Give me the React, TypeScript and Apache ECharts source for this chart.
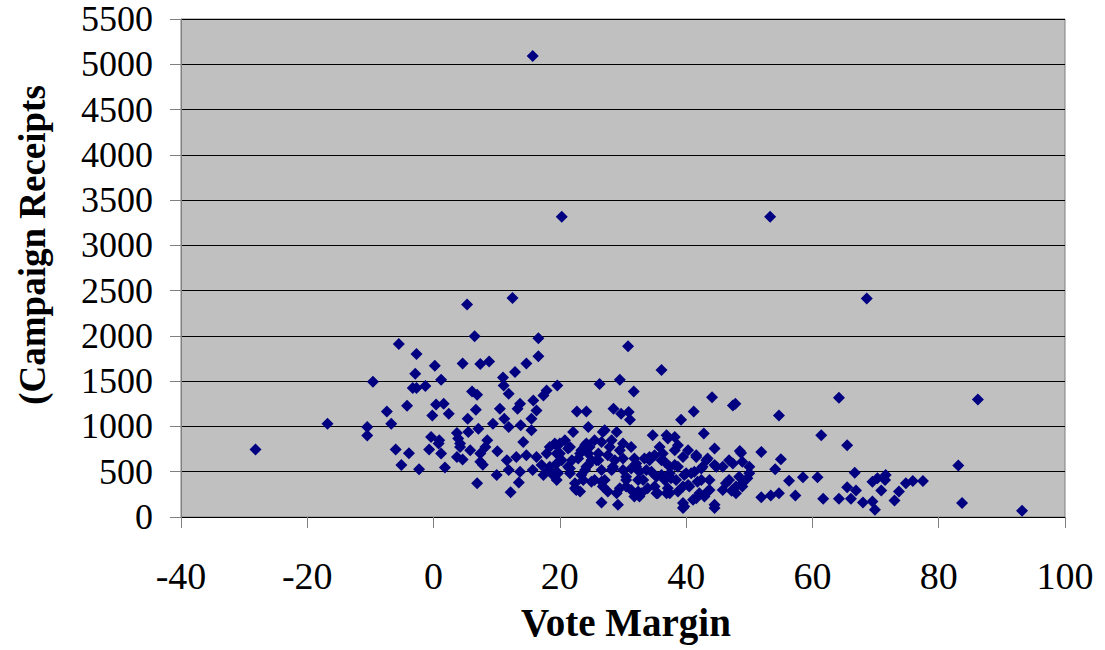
import React, { useEffect, useRef } from "react";
import * as echarts from "echarts";

const xTicks = { min: -40, max: 100, interval: 20 };
const yTicks = { min: 0, max: 5500, interval: 500 };
const xTitle = "Vote Margin";
const yTitle = "(Campaign Receipts";

// [vote margin, campaign receipts]
const sparseLeft: number[][] = [
  [-28.2, 746], [-16.8, 1031], [-10.5, 993], [-10.5, 899], [-9.6, 1495], [-7.4, 1166],
  [-6.7, 1031], [-6.0, 746], [-5.5, 1911], [-5.1, 573], [-3.9, 705], [-4.2, 1228],
  [-2.9, 1582], [-2.7, 1801], [-3.3, 1425], [-2.7, 1425], [-1.3, 1447], [-2.3, 526],
  [-0.7, 746], [-0.4, 884], [-0.2, 1122], [0.2, 1670], [1.2, 1516], [0.4, 1242],
  [1.6, 1250], [2.4, 1140], [0.8, 811], [1.2, 702], [1.8, 548], [3.7, 928], [4.2, 811],
  [3.7, 664], [4.6, 636], [5.3, 2346], [4.6, 1695], [6.5, 1996], [5.4, 1086], [6.1, 1385],
  [6.7, 1184], [5.8, 738], [6.9, 373],
];

const outliers: number[][] = [
  [15.7, 5091], [20.3, 3315], [53.3, 3315], [68.6, 2412], [12.5, 2419], [86.2, 1297],
];

const band0to20: number[][] = [
  [16.6, 1974], [7.4, 1689], [8.8, 1717], [14.7, 1695], [16.6, 1776], [12.9, 1601],
  [11.0, 1542], [11.1, 1451], [11.9, 1360], [6.9, 1349], [19.6, 1451], [17.9, 1396],
  [17.4, 1341], [15.8, 1286], [13.7, 1250], [13.3, 1195], [10.5, 1195], [11.2, 1086],
  [9.4, 1031], [11.9, 993], [13.8, 1012], [15.5, 957], [16.3, 1177], [5.5, 939],
  [7.1, 976], [0.9, 848], [3.9, 866], [4.2, 774], [8.5, 848], [8.2, 774], [14.2, 829],
  [7.4, 702], [10.1, 727], [11.6, 628], [13.1, 664], [14.7, 683], [16.3, 664], [17.9, 702],
  [19.5, 793], [18.4, 774], [7.8, 577], [10.0, 464], [11.9, 519], [13.7, 500], [15.7, 519],
  [17.4, 464], [18.9, 464], [12.2, 274], [13.5, 380], [19.5, 592], [17.1, 573], [18.2, 519],
  [19.5, 409], [7.4, 610], [15.5, 1086], [19.5, 702], [18.4, 555],
];

const band20to55: number[][] = [
  [30.8, 1886], [36.1, 1623], [26.3, 1469], [29.5, 1516], [31.7, 1385], [22.7, 1166],
  [24.2, 1166], [28.5, 1195], [29.7, 1140], [30.9, 1160], [31.1, 1075], [39.2, 1075],
  [41.2, 1166], [44.1, 1322], [47.4, 1231], [47.8, 1250], [42.8, 921], [51.9, 719], [34.7, 902],
  [22.1, 939], [24.5, 993], [26.8, 939], [29.0, 939], [36.9, 902], [38.2, 884],
  [26.6, 160], [29.2, 135], [39.5, 99], [44.5, 99], [51.9, 219], [22.6, 299], [32.6, 226],
  [37.4, 263], [41.6, 208], [47.9, 263], [48.9, 373], [50.0, 482], [48.7, 708], [44.5, 757],
  [41.6, 683],
  [20.0, 702], [19.2, 811], [20.8, 848], [21.3, 555], [19.7, 482], [22.4, 373], [23.2, 281],
  [23.4, 738], [24.2, 811], [25.0, 628], [25.5, 848], [26.1, 702], [26.6, 519], [27.1, 409],
  [27.6, 281], [27.9, 774], [28.7, 628], [29.5, 738], [30.0, 519], [30.5, 336], [31.3, 774],
  [32.1, 592], [32.9, 263], [33.7, 519], [34.2, 664], [35.0, 336], [35.8, 774], [36.1, 628],
  [36.9, 263], [37.4, 482], [38.2, 738], [38.7, 555], [39.5, 336], [39.7, 117], [40.3, 738],
  [40.8, 482], [41.6, 664], [42.1, 263], [42.4, 409], [21.9, 628], [20.3, 628], [24.0, 519],
  [25.5, 409], [32.4, 409], [36.6, 409], [31.3, 299], [28.2, 519], [24.5, 702],
  [27.1, 957], [20.0, 811], [21.3, 757], [19.5, 500], [21.6, 537], [22.9, 647], [24.0, 793],
  [26.6, 829], [28.2, 848], [30.0, 811], [31.8, 647], [30.0, 647], [27.6, 683], [26.1, 628],
  [24.5, 573], [23.4, 464], [22.4, 318], [25.0, 390], [26.6, 390], [29.5, 318], [30.5, 445],
  [31.8, 226], [28.4, 537], [31.3, 537],
  [37.1, 866], [38.7, 793], [43.4, 647], [33.4, 647], [35.0, 683], [36.6, 610], [38.2, 573],
  [32.6, 500], [34.5, 500], [36.1, 464], [37.6, 428], [39.7, 464], [41.3, 500], [42.4, 537],
  [44.5, 573], [32.4, 281], [33.9, 318], [35.5, 263], [37.1, 318], [38.7, 281], [40.3, 354],
  [41.8, 390], [39.5, 154], [41.1, 190], [43.4, 281], [44.5, 135],
  [21.6, 774], [23.2, 702], [24.7, 774], [24.2, 555], [25.8, 628], [28.4, 555], [30.5, 409],
  [32.1, 555], [33.2, 409], [34.2, 628], [35.3, 445], [36.3, 702], [37.4, 555], [38.4, 409],
  [39.5, 664], [40.0, 482], [40.5, 336], [42.6, 555], [43.7, 409], [45.8, 555], [46.8, 409],
  [47.9, 336], [46.8, 628], [23.7, 409], [26.8, 336], [29.0, 263], [35.3, 263], [21.6, 482],
  [54.7, 1122], [55.0, 639], [54.1, 526], [53.4, 237], [54.7, 263], [48.5, 730],
  [43.2, 628], [44.8, 555], [46.3, 373], [47.2, 290], [48.9, 336], [49.7, 428], [50.0, 555],
  [48.9, 610], [47.4, 592], [43.7, 299], [42.9, 226], [48.4, 445], [45.8, 299],
];

const bandRight: number[][] = [
  [64.2, 1316], [61.4, 902], [65.5, 793], [56.3, 401], [58.5, 438], [60.8, 438],
  [57.3, 237], [61.7, 201], [64.2, 201], [65.5, 329], [66.7, 489], [83.1, 570], [83.7, 154],
  [93.2, 69], [66.1, 201], [66.9, 292], [68.0, 160], [69.5, 171], [69.9, 80], [69.5, 390],
  [70.3, 428], [71.6, 464], [71.5, 409], [70.9, 292], [73.0, 182], [73.7, 281], [74.8, 373],
  [75.9, 398], [77.5, 398],
];

const points = [...sparseLeft, ...outliers, ...band0to20, ...band20to55, ...bandRight];

const FONT = "'Liberation Serif', 'Times New Roman', serif";

export default function App() {
  const ref = useRef<HTMLDivElement>(null);
  useEffect(() => {
    document.body.style.margin = "0";
    const chart = echarts.init(ref.current!, undefined, { renderer: "svg" });
    chart.setOption({
      animation: false,
      backgroundColor: "#ffffff",
      grid: {
        left: 181,
        right: 40,
        top: 19,
        bottom: 133,
        show: true,
        backgroundColor: "#c0c0c0",
        borderColor: "#808080",
        borderWidth: 1,
        containLabel: false,
        outerBoundsMode: "none",
      },
      xAxis: {
        type: "value",
        min: xTicks.min,
        max: xTicks.max,
        interval: xTicks.interval,
        axisLine: { show: true, onZero: false, lineStyle: { color: "#000000", width: 1 } },
        axisTick: { show: true, length: 11, lineStyle: { color: "#808080", width: 1 } },
        axisLabel: { fontSize: 38, fontFamily: FONT, color: "#000000", margin: 40 },
        splitLine: { show: false },
      },
      yAxis: {
        type: "value",
        min: yTicks.min,
        max: yTicks.max,
        interval: yTicks.interval,
        axisLine: { show: true, onZero: false, lineStyle: { color: "#808080", width: 1 } },
        axisTick: { show: true, length: 11, lineStyle: { color: "#808080", width: 1 } },
        axisLabel: {
          fontSize: 36,
          lineHeight: 32,
          fontFamily: FONT,
          color: "#000000",
          margin: 28,
          formatter: (v: number) => String(v),
        },
        splitLine: { show: true, lineStyle: { color: "#000000", width: 1 } },
      },
      graphic: [
        {
          type: "text",
          x: 32,
          y: 245,
          rotation: Math.PI / 2,
          style: {
            text: yTitle,
            font: `bold 37px ${FONT}`,
            fill: "#000000",
            align: "center",
            verticalAlign: "middle",
            textAlign: "center",
            textVerticalAlign: "middle",
          },
        },
        {
          type: "text",
          x: 626,
          y: 622,
          style: {
            text: xTitle,
            font: `bold 39px ${FONT}`,
            fill: "#000000",
            align: "center",
            verticalAlign: "middle",
            textAlign: "center",
            textVerticalAlign: "middle",
          },
        },
      ],
      series: [
        {
          type: "scatter",
          data: points,
          symbol: "diamond",
          symbolSize: 12,
          itemStyle: { color: "#000080", opacity: 1 },
        },
      ],
    });
    return () => chart.dispose();
  }, []);
  return <div ref={ref} style={{ width: 1105, height: 650 }} />;
}
